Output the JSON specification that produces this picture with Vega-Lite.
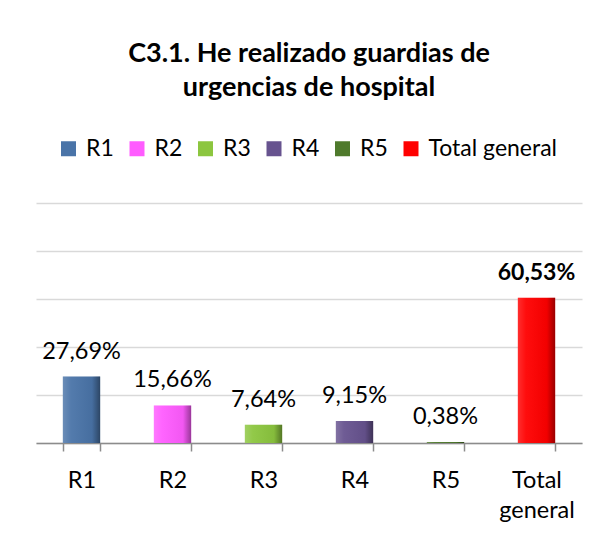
{
  "$schema": "https://vega.github.io/schema/vega-lite/v6.json",
  "width": 546,
  "height": 240,
  "autosize": {"type": "none"},
  "padding": {"left": 36, "top": 203, "right": 23, "bottom": 92},
  "background": "white",
  "title": {
    "text": ["C3.1. He realizado guardias de", "urgencias de hospital"],
    "font": "Lato",
    "fontSize": 27,
    "fontWeight": "bold",
    "color": "#000000",
    "anchor": "middle",
    "lineHeight": 34,
    "offset": 35
  },
  "config": {
    "view": {"stroke": null},
    "axis": {"labelFont": "Lato", "titleFont": "Lato"},
    "legend": {"labelFont": "Lato"}
  },
  "data": {
    "values": [
      {"cat": "R1", "value": 27.69},
      {"cat": "R2", "value": 15.66},
      {"cat": "R3", "value": 7.64},
      {"cat": "R4", "value": 9.15},
      {"cat": "R5", "value": 0.38},
      {"cat": "Total general", "value": 60.53}
    ]
  },
  "transform": [
    {"calculate": "replace(format(datum.value, '.2f'), '.', ',') + '%'", "as": "label"}
  ],
  "encoding": {
    "x": {
      "field": "cat",
      "type": "nominal",
      "sort": null,
      "scale": {"paddingInner": 0.59, "paddingOuter": 0.295},
      "axis": {
        "title": null,
        "labelAngle": 0,
        "labelFontSize": 23.5,
        "labelColor": "#000000",
        "labelPadding": 17,
        "labelLineHeight": 30,
        "labelExpr": "datum.label == 'Total general' ? ['Total', 'general'] : datum.label",
        "tickBand": "extent",
        "tickSize": 8,
        "tickColor": "#8c8c8c",
        "tickWidth": 1.5,
        "domainColor": "#8c8c8c",
        "domainWidth": 1.5,
        "grid": false
      }
    },
    "y": {
      "field": "value",
      "type": "quantitative",
      "scale": {"domain": [0, 100]},
      "axis": {
        "title": null,
        "labels": false,
        "ticks": false,
        "domain": false,
        "grid": true,
        "gridColor": "#d9d9d9",
        "gridWidth": 1.5,
        "values": [0, 20, 40, 60, 80, 100]
      }
    }
  },
  "layer": [
    {
      "mark": {"type": "bar"},
      "encoding": {
        "color": {
          "field": "cat",
          "type": "nominal",
          "sort": null,
          "scale": {
            "domain": ["R1", "R2", "R3", "R4", "R5", "Total general"],
            "range": ["#4a74a8", "#ff5cff", "#8cc63f", "#67538f", "#4f7a2c", "#ff0000"]
          },
          "legend": {
            "title": null,
            "orient": "none",
            "direction": "horizontal",
            "legendX": 21,
            "legendY": -66,
            "symbolType": "square",
            "symbolSize": 225,
            "symbolStrokeWidth": 0,
            "labelFontSize": 23,
            "labelColor": "#000000",
            "labelOffset": 6,
            "columnPadding": 11.5,
            "symbolOpacity": 1
          }
        }
      }
    },
    {
      "mark": {
        "type": "bar",
        "fill": {
          "gradient": "linear",
          "x1": 0, "x2": 1, "y1": 0, "y2": 0,
          "stops": [
            {"offset": 0, "color": "rgba(255,255,255,0.18)"},
            {"offset": 0.22, "color": "rgba(255,255,255,0.05)"},
            {"offset": 0.78, "color": "rgba(0,0,0,0.05)"},
            {"offset": 1, "color": "rgba(0,0,0,0.4)"}
          ]
        }
      },
      "encoding": {}
    },
    {
      "transform": [{"filter": "datum.cat != 'Total general'"}],
      "mark": {"type": "text", "dy": -18, "baseline": "alphabetic", "font": "Lato", "fontSize": 23.5, "color": "#000000"},
      "encoding": {"text": {"field": "label"}}
    },
    {
      "transform": [{"filter": "datum.cat == 'Total general'"}],
      "mark": {"type": "text", "dy": -18, "baseline": "alphabetic", "font": "Lato", "fontSize": 23, "fontWeight": "bold", "color": "#000000"},
      "encoding": {"text": {"field": "label"}}
    }
  ]
}
